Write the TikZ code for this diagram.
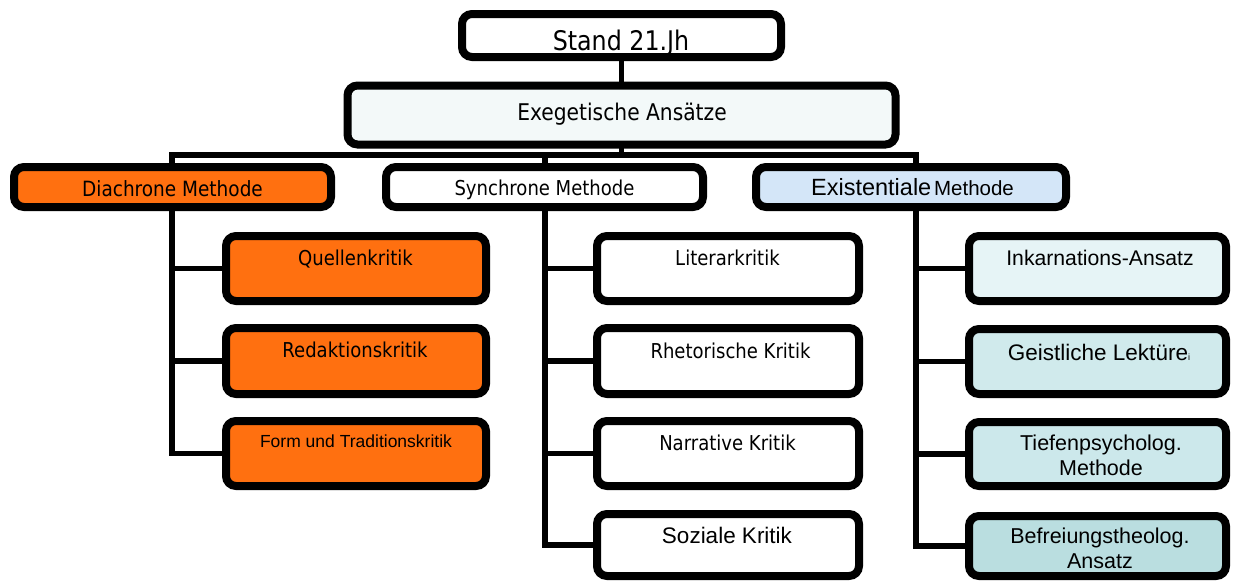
\documentclass[tikz,border=0pt]{standalone}
\usepackage{fontspec}
\setmainfont{Liberation Sans}
\newfontfamily\tah[FakeStretch=0.88]{DejaVu Sans}
\newfontfamily\ari{Liberation Sans}
\usetikzlibrary{backgrounds}
\definecolor{orangefill}{RGB}{255,112,16}
\definecolor{exegfill}{RGB}{243,249,249}
\definecolor{existfill}{RGB}{212,230,248}
\definecolor{inkfill}{RGB}{230,244,246}
\definecolor{geistfill}{RGB}{208,234,236}
\definecolor{tieffill}{RGB}{204,232,235}
\definecolor{befrfill}{RGB}{186,222,224}
\begin{document}
\begin{tikzpicture}[x=1pt,y=-1pt,
  box/.style={draw=black, line width=8pt, rounded corners=10pt, inner sep=0pt},
  conn/.style={draw=black, line width=5.5pt, line cap=rect},
  txt/.style={anchor=base, inner sep=0pt, align=center, text=black},
  tahtext/.style={txt, font=\tah\fontsize{20.5}{25}\selectfont},
  aritext/.style={txt, font=\ari\fontsize{21.5}{25}\selectfont}]
\useasboundingbox (0,0) rectangle (1234,581);

% top boxes
\node[box, fill=white, minimum width=319pt, minimum height=43pt] (stand) at (621.5,35.5) {};
\node[box, fill=exegfill, minimum width=548pt, minimum height=59pt] (exeg) at (621.5,115) {};
\node[box, fill=orangefill, minimum width=317pt, minimum height=40pt] (dia) at (172.5,187) {};
\node[box, fill=white, minimum width=317pt, minimum height=40pt] (syn) at (544.5,187) {};
\node[box, fill=existfill, minimum width=310pt, minimum height=40pt] (exi) at (911,187) {};

% left column
\node[box, fill=orangefill, minimum width=260pt, minimum height=65pt] (quel) at (356,268.5) {};
\node[box, fill=orangefill, minimum width=260pt, minimum height=66pt] (reda) at (356,361) {};
\node[box, fill=orangefill, minimum width=260pt, minimum height=65pt] (form) at (356,453.5) {};

% middle column
\node[box, fill=white, minimum width=262pt, minimum height=65pt] (lit) at (728,268.5) {};
\node[box, fill=white, minimum width=262pt, minimum height=66pt] (rhet) at (728,361) {};
\node[box, fill=white, minimum width=262pt, minimum height=65pt] (narr) at (728,453.5) {};
\node[box, fill=white, minimum width=262pt, minimum height=62pt] (soz) at (728,545) {};

% right column
\node[box, fill=inkfill, minimum width=257pt, minimum height=65pt] (ink) at (1097.5,268.5) {};
\node[box, fill=geistfill, minimum width=257pt, minimum height=65pt] (geist) at (1097.5,361.5) {};
\node[box, fill=tieffill, minimum width=257pt, minimum height=64pt] (tief) at (1097.5,454) {};
\node[box, fill=befrfill, minimum width=257pt, minimum height=60pt] (befr) at (1097.5,546) {};

% connectors
\coordinate (bl) at (172,155);
\coordinate (bm) at (545,155);
\coordinate (br) at (916,155);
\begin{scope}[on background layer]
\draw[conn] (stand.south) -- (exeg.north);
\draw[conn] (exeg.south) -- (exeg.south |- bl);
\draw[conn] (bl) -- (br);
\draw[conn] (bl) |- (quel.west);
\draw[conn] (bl) |- (reda.west);
\draw[conn] (bl) |- (form.west);
\draw[conn] (bm) |- (lit.west);
\draw[conn] (bm) |- (rhet.west);
\draw[conn] (bm) |- (narr.west);
\draw[conn] (bm) |- (soz.west);
\draw[conn] (br) |- (ink.west);
\draw[conn] (br) |- (geist.west);
\draw[conn] (br) |- (tief.west);
\draw[conn] (br) |- (befr.west);
\end{scope}

% texts
\node[txt, font=\tah\fontsize{27}{30}\selectfont] (stand-t) at (621,50) {Stand 21.Jh};
\node[txt, font=\tah\fontsize{23}{26}\selectfont] (exeg-t) at (622,120) {Exegetische Ansätze};
\node[txt, font=\tah\fontsize{21}{25}\selectfont] (dia-t) at (172.5,196) {Diachrone Methode};
\node[txt, font=\tah\fontsize{20.5}{25}\selectfont] (syn-t) at (544.5,195) {Synchrone Methode};
\node[txt, font=\ari] (exi-t) at (912.5,195) {{\fontsize{23.5}{26}\selectfont Existentiale} {\fontsize{20.5}{26}\selectfont Methode}};

\node[tahtext] (quel-t) at (355.5,265) {Quellenkritik};
\node[tahtext] (reda-t) at (355,357) {Redaktionskritik};
\node[txt, font=\ari\fontsize{17.5}{20}\selectfont] (form-t) at (356,447) {Form und Traditionskritik};

\node[tahtext] (lit-t) at (727.5,265) {Literarkritik};
\node[tahtext] (rhet-t) at (730.5,358) {Rhetorische Kritik};
\node[tahtext] (narr-t) at (727.5,450) {Narrative Kritik};
\node[txt, font=\ari\fontsize{22.5}{25}\selectfont] (soz-t) at (727,543) {Soziale Kritik};

\node[aritext, font=\ari\fontsize{21.2}{25}\selectfont] (ink-t) at (1100,265) {Inkarnations-Ansatz};
\node[aritext, font=\ari\fontsize{22.5}{25}\selectfont] (geist-t) at (1099,360) {Geistliche Lektüre{\fontsize{9}{9}\selectfont i}};
\node[aritext] (tief-t) at (1101,475) {Tiefenpsycholog.\\Methode};
\node[aritext] (befr-t) at (1100,568) {Befreiungstheolog.\\Ansatz};
\end{tikzpicture}
\end{document}
